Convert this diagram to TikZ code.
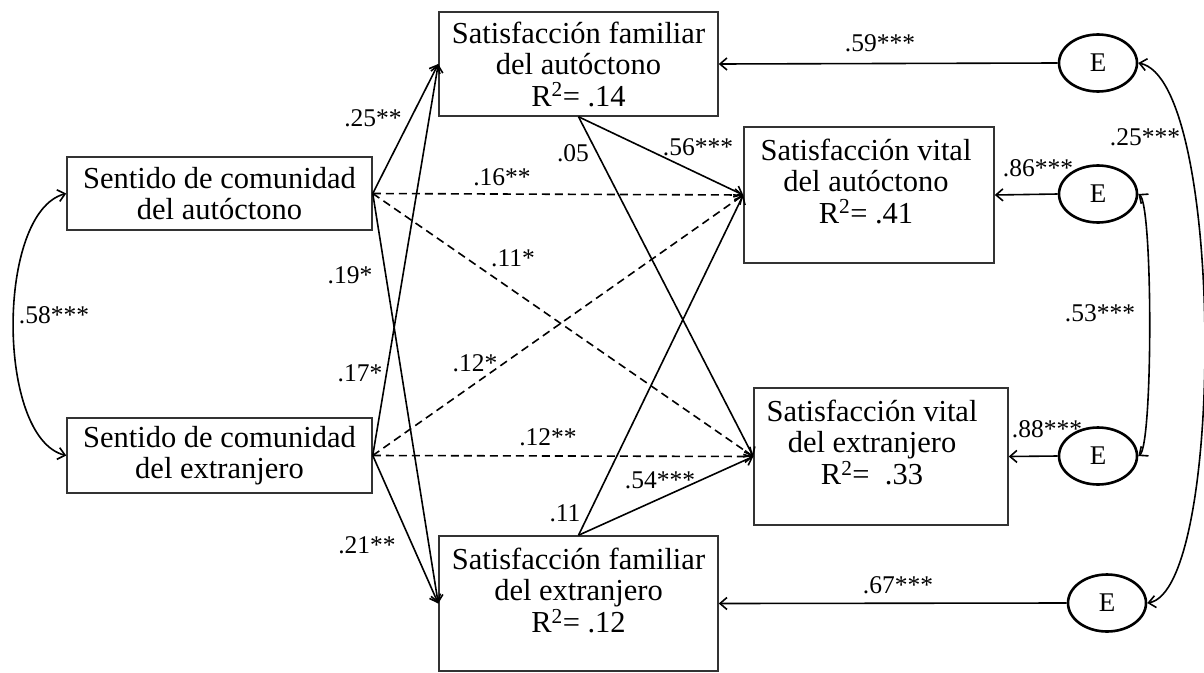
\documentclass[tikz,border=0pt]{standalone}
\usepackage{fontspec}
\setmainfont{Liberation Serif}
\usetikzlibrary{arrows.meta,shapes.geometric}
\begin{document}
\begin{tikzpicture}[x=1pt,y=-1pt,
  box/.style={draw=black!80, line width=1.5pt, rectangle, inner sep=0pt},
  txt/.style={align=center, font=\fontsize{30.5}{31.5}\selectfont, inner sep=0pt},
  err/.style={draw, ellipse, line width=2.6pt, minimum width=78pt, minimum height=57pt, inner sep=0pt, font=\fontsize{27}{27}\selectfont},
  lab/.style={font=\fontsize{25.5}{25.5}\selectfont, inner sep=0pt},
  arr/.style={line width=1.6pt, -{Straight Barb[length=7pt,width=12pt]}},
  darr/.style={arr, dash pattern=on 8pt off 5pt},
  cov/.style={line width=1.6pt, {Straight Barb[length=7pt,width=12pt]}-{Straight Barb[length=7pt,width=12pt]}},
]
\useasboundingbox (0,0) rectangle (1204,672);
% boxes
\node[box, txt, minimum width=305pt, minimum height=73pt] (A) at (219.5,193.5) {Sentido de comunidad\\del autóctono};
\node[box, txt, minimum width=305pt, minimum height=75pt] (B) at (219.5,455.5) {Sentido de comunidad\\del extranjero};
\node[box, txt, minimum width=279pt, minimum height=104pt] (C) at (578.5,64) {Satisfacción familiar\\del autóctono\\R\textsuperscript{2}= .14};
\node[box, minimum width=250pt, minimum height=136pt] (D) at (869,195) {};
\node[txt] (Dt) at (866,181) {Satisfacción vital\\del autóctono\\R\textsuperscript{2}= .41};
\node[box, minimum width=254pt, minimum height=137pt] (E) at (881,456.5) {};
\node[txt] (Et) at (872,442) {Satisfacción vital\\del extranjero\\R\textsuperscript{2}=~ .33};
\node[box, minimum width=279pt, minimum height=135pt] (F) at (578.5,603.5) {};
\node[txt] (Ft) at (578.5,590) {Satisfacción familiar\\del extranjero\\R\textsuperscript{2}= .12};
% error terms
\node[err] (e1) at (1098,63) {E};
\node[err] (e2) at (1098,194) {E};
\node[err] (e3) at (1098,456) {E};
\node[err] (e4) at (1107,603) {E};
% paths
\draw[arr] (A.east) -- (C.west);
\draw[arr] (A.east) -- (F.west);
\draw[darr] (A.east) -- (D.west);
\draw[darr] (A.east) -- (E.west);
\draw[arr] (B.east) -- (C.west);
\draw[arr] (B.east) -- (F.west);
\draw[darr] (B.east) -- (D.west);
\draw[darr] (B.east) -- (E.west);
\draw[arr] (C.south) -- (D.west);
\draw[arr] (C.south) -- (E.west);
\draw[arr] (F.north) -- (D.west);
\draw[arr] (F.north) -- (E.west);
\draw[arr] (e1.west) -- (C.east);
\draw[arr] (e2.west) -- (D.east);
\draw[arr] (e3.west) -- (E.east);
\draw[arr] (e4.west) -- (F.east);
% covariances
\draw[cov] (A.west) .. controls (-4,212) and (-4,438) .. (B.west);
\draw[cov] (e1.east) .. controls (1225,80) and (1225,590) .. (e4.east);
\draw[cov] (e2.east) .. controls (1153,205) and (1153,445) .. (e3.east);
% labels
\node[lab] (l25) at (373,118) {.25**};
\node[lab] (l19) at (350,275) {.19*};
\node[lab] (l58) at (54,315) {.58***};
\node[lab] (l17) at (360,373) {.17*};
\node[lab] (l21) at (367,545) {.21**};
\node[lab] (l16) at (502,177) {.16**};
\node[lab] (l11s) at (513,258) {.11*};
\node[lab] (l05) at (573,153) {.05};
\node[lab] (l56) at (698,147) {.56***};
\node[lab] (l12s) at (475,363) {.12*};
\node[lab] (l12d) at (548,437) {.12**};
\node[lab] (l54) at (660,480) {.54***};
\node[lab] (l11) at (565,513) {.11};
\node[lab] (l59) at (880,43) {.59***};
\node[lab] (l25b) at (1145,137) {.25***};
\node[lab] (l86) at (1038,168) {.86***};
\node[lab] (l53) at (1100,313) {.53***};
\node[lab] (l88) at (1047,429) {.88***};
\node[lab] (l67) at (898,585) {.67***};
\end{tikzpicture}
\end{document}
